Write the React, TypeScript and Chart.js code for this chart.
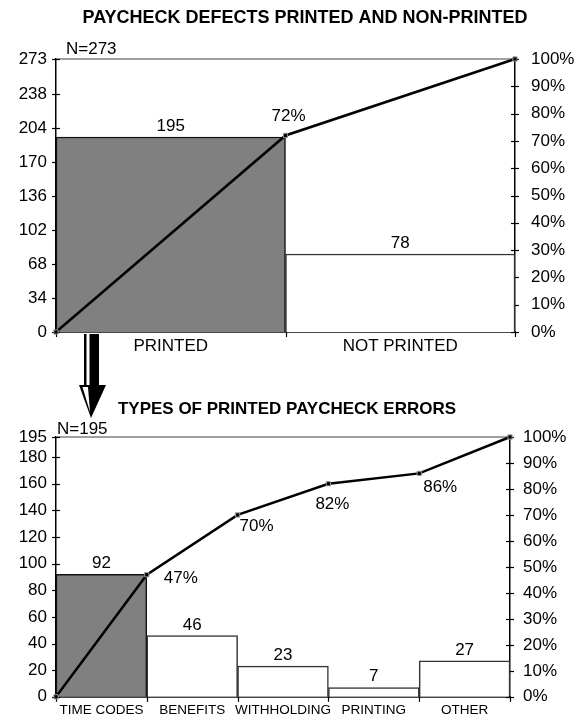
import React, { useEffect, useRef } from "react";
import { Chart, registerables } from "chart.js";

Chart.register(...registerables);

const FONT = "'Liberation Sans', Arial, Helvetica, sans-serif";

// ---- Chart 1 data ----
const title1 = "PAYCHECK DEFECTS PRINTED AND NON-PRINTED";
const nLabel1 = "N=273";
const cats1 = ["PRINTED", "NOT PRINTED"];
const counts1 = [195, 78];
const cumPct1 = [0, 72, 100];
const leftTicks1 = [0, 34, 68, 102, 136, 170, 204, 238, 273];
const max1 = 273;

// ---- Chart 2 data ----
const title2 = "TYPES OF PRINTED PAYCHECK ERRORS";
const nLabel2 = "N=195";
const cats2 = ["TIME CODES", "BENEFITS", "WITHHOLDING", "PRINTING", "OTHER"];
const counts2 = [92, 46, 23, 7, 27];
const cumPct2 = [0, 47, 70, 82, 86, 100];
const leftTicks2 = [0, 20, 40, 60, 80, 100, 120, 140, 160, 180, 195];
const max2 = 195;

const pctTicks = [0, 10, 20, 30, 40, 50, 60, 70, 80, 90, 100];

type Spec = {
  title: string;
  titleX: number;
  titleY: number;
  titleSize: number;
  nLabel: string;
  nX: number;
  nY: number;
  cats: string[];
  counts: number[];
  cum: number[];
  leftTicks: number[];
  max: number;
  padTop: number;
  leftW: number;
  rightW: number;
  xH: number;
  xFont: number;
  xPad: number;
  rightPad: number;
  pctOffsets: (number[] | null)[];
};

const overlay = {
  id: "overlay",
  beforeDatasetsDraw(chart: any, _a: any, o: any) {
    const ctx = chart.ctx;
    const ca = chart.chartArea;
    ctx.save();
    ctx.strokeStyle = "#808080";
    ctx.lineWidth = 1.5;
    ctx.beginPath();
    ctx.moveTo(ca.left, ca.top);
    ctx.lineTo(ca.right, ca.top);
    ctx.stroke();
    ctx.strokeStyle = "#000";
    ctx.lineWidth = 1.2;
    const ys = chart.scales.y;
    ys.ticks.forEach((t: any) => {
      const py = Math.round(ys.getPixelForValue(t.value)) + 0.5;
      ctx.beginPath();
      ctx.moveTo(ca.left - 4, py);
      ctx.lineTo(ca.left + 4, py);
      ctx.stroke();
    });
    const yr = chart.scales.yr;
    yr.ticks.forEach((t: any) => {
      const py = Math.round(yr.getPixelForValue(t.value)) + 0.5;
      ctx.beginPath();
      ctx.moveTo(ca.right - 4, py);
      ctx.lineTo(ca.right + 4, py);
      ctx.stroke();
    });
    const xl = chart.scales.xl;
    for (let i = 0; i <= o.n; i++) {
      const px = Math.round(xl.getPixelForValue(i)) + 0.5;
      ctx.beginPath();
      ctx.moveTo(px, ca.bottom);
      ctx.lineTo(px, ca.bottom + 5);
      ctx.stroke();
    }
    ctx.restore();
  },
  afterDraw(chart: any, _a: any, o: any) {
    const ctx = chart.ctx;
    const s: Spec = o.spec;
    ctx.save();
    ctx.fillStyle = "#000";
    ctx.textAlign = "center";
    ctx.textBaseline = "alphabetic";
    ctx.font = `bold ${s.titleSize}px ${FONT}`;
    ctx.fillText(s.title, s.titleX, s.titleY);
    ctx.font = `17px ${FONT}`;
    ctx.textAlign = "left";
    ctx.fillText(s.nLabel, s.nX, s.nY);
    ctx.textAlign = "center";
    const bm = chart.getDatasetMeta(0);
    bm.data.forEach((el: any, i: number) => {
      ctx.fillText(String(s.counts[i]), el.x, el.y - 6);
    });
    const lm = chart.getDatasetMeta(1);
    ctx.textBaseline = "middle";
    lm.data.forEach((el: any, i: number) => {
      const off = s.pctOffsets[i];
      if (!off) return;
      ctx.fillText(s.cum[i] + "%", el.x + off[0], el.y + off[1]);
    });
    ctx.restore();
  },
};

function buildConfig(s: Spec): any {
  const n = s.cats.length;
  const tickFont = { family: FONT, size: 17 };
  return {
    type: "bar",
    data: {
      labels: s.cats,
      datasets: [
        {
          type: "bar",
          data: s.counts,
          backgroundColor: s.counts.map((_, i) => (i === 0 ? "#808080" : "#ffffff")),
          borderColor: s.counts.map((_, i) => (i === 0 ? "#111" : "#333")),
          borderWidth: 1.5,
          barPercentage: 1,
          categoryPercentage: 1,
          grouped: false,
          xAxisID: "x",
          yAxisID: "y",
          order: 1,
        },
        {
          type: "line",
          data: s.cum.map((v, i) => ({ x: i, y: v })),
          xAxisID: "xl",
          yAxisID: "yr",
          borderColor: "#000",
          borderWidth: 2.5,
          pointStyle: "rect",
          pointRadius: 3,
          pointBackgroundColor: "#000",
          pointBorderColor: "#999",
          pointBorderWidth: 1,
          tension: 0,
          clip: false,
          order: 0,
        },
      ],
    },
    options: {
      responsive: false,
      animation: false,
      devicePixelRatio: 1,
      layout: { padding: { top: s.padTop, left: 0, right: 0, bottom: 0 } },
      plugins: {
        legend: { display: false },
        title: { display: false },
        tooltip: { enabled: false },
        overlay: { spec: s, n },
      },
      scales: {
        x: {
          type: "category",
          offset: true,
          grid: { display: false, drawTicks: false, offset: true },
          border: { display: true, color: "#444", width: 2 },
          ticks: {
            font: { family: FONT, size: s.xFont },
            color: "#000",
            padding: s.xPad,
            maxRotation: 0,
            minRotation: 0,
            autoSkip: false,
          },
          afterFit: (sc: any) => {
            sc.height = s.xH;
          },
        },
        xl: {
          type: "linear",
          display: false,
          offset: false,
          min: 0,
          max: n,
        },
        y: {
          type: "linear",
          position: "left",
          min: 0,
          max: s.max,
          afterBuildTicks: (sc: any) => {
            sc.ticks = s.leftTicks.map((v) => ({ value: v }));
          },
          ticks: { font: tickFont, color: "#000", padding: 9, autoSkip: false },
          grid: { display: false, drawTicks: false },
          border: { display: true, color: "#000", width: 1.5 },
          afterFit: (sc: any) => {
            sc.width = s.leftW;
          },
        },
        yr: {
          type: "linear",
          position: "right",
          min: 0,
          max: 100,
          afterBuildTicks: (sc: any) => {
            sc.ticks = pctTicks.map((v) => ({ value: v }));
          },
          ticks: {
            font: tickFont,
            color: "#000",
            padding: s.rightPad,
            autoSkip: false,
            callback: (v: any) => v + "%",
          },
          grid: { display: false, drawTicks: false },
          border: { display: true, color: "#000", width: 1.5 },
          afterFit: (sc: any) => {
            sc.width = s.rightW;
          },
        },
      },
    },
    plugins: [overlay],
  };
}

const spec1: Spec = {
  title: title1,
  titleX: 305,
  titleY: 23,
  titleSize: 18,
  nLabel: nLabel1,
  nX: 66,
  nY: 54,
  cats: cats1,
  counts: counts1,
  cum: cumPct1,
  leftTicks: leftTicks1,
  max: max1,
  padTop: 59,
  leftW: 56,
  rightW: 73,
  xH: 28,
  xFont: 17,
  xPad: 4,
  rightPad: 16,
  pctOffsets: [null, [3, -19], null],
};

const spec2: Spec = {
  title: title2,
  titleX: 287,
  titleY: 54,
  titleSize: 17,
  nLabel: nLabel2,
  nX: 57,
  nY: 74,
  cats: cats2,
  counts: counts2,
  cum: cumPct2,
  leftTicks: leftTicks2,
  max: max2,
  padTop: 77,
  leftW: 56,
  rightW: 78,
  xH: 20,
  xFont: 13.5,
  xPad: 5,
  rightPad: 13,
  pctOffsets: [null, [34, 4], [19, 11], [4, 21], [21, 14], null],
};

function Pareto({ spec, top }: { spec: Spec; top: number }) {
  const ref = useRef<HTMLCanvasElement | null>(null);
  useEffect(() => {
    if (!ref.current) return;
    const chart = new Chart(ref.current, buildConfig(spec));
    return () => chart.destroy();
  }, [spec]);
  return (
    <canvas
      ref={ref}
      width={588}
      height={360}
      style={{ position: "absolute", left: 0, top, width: 588, height: 360, display: "block" }}
    />
  );
}

export default function App() {
  return (
    <div style={{ position: "absolute", left: 0, top: 0, width: 588, height: 720, background: "#fff" }}>
      <Pareto spec={spec1} top={0} />
      <Pareto spec={spec2} top={360} />
      <svg
        width={588}
        height={720}
        style={{ position: "absolute", left: 0, top: 0, pointerEvents: "none" }}
      >
        <rect x={84} y={334} width={15} height={52} fill="#000" />
        <rect x={86.5} y={334} width={3} height={54} fill="#fff" />
        <polygon points="79,385 106,385 91,418" fill="#000" />
        <polygon points="82.5,387 88,387 90,412" fill="#fff" />
      </svg>
    </div>
  );
}
